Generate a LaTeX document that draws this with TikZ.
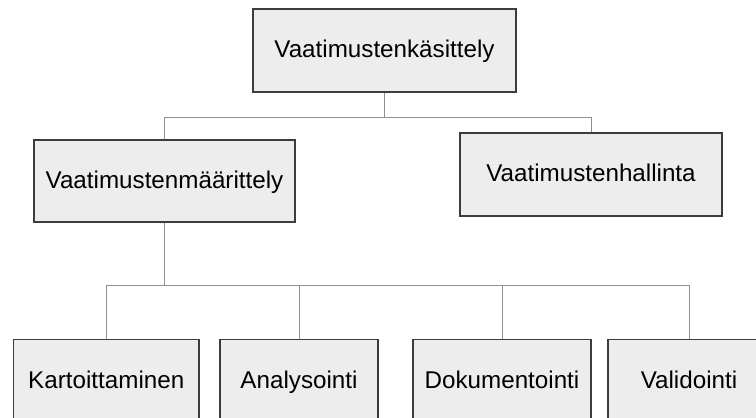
\documentclass[tikz,border=0pt]{standalone}
\usepackage{fontspec}
\setmainfont{Liberation Sans}
\usepackage{tikz}
\definecolor{boxfill}{HTML}{EDEDED}
\definecolor{boxline}{HTML}{3C3C3C}
\definecolor{connline}{HTML}{8E8E8E}
\tikzset{
  vaatbox/.style={draw=boxline, fill=boxfill, line width=0.75pt, inner sep=0pt,
    minimum height=41.5pt, text height=9pt, text depth=1.8pt,
    font=\fontsize{12.1}{14}\selectfont},
  conn/.style={draw=connline, line width=0.5pt}
}
\begin{document}
\begin{tikzpicture}[x=0.5pt,y=-0.5pt]
\useasboundingbox (0,0) rectangle (756,418);
\clip (0,0) rectangle (756,418);
\fill[white] (0,0) rectangle (756,418);
% ylin taso
\node[vaatbox, minimum width=131.5pt] (kasittely) at (384.5,50.5) {Vaatimustenkäsittely};
% toinen taso
\node[vaatbox, minimum width=130.5pt, minimum height=41pt] (maarittely) at (164.5,181) {Vaatimustenmäärittely};
\node[vaatbox, minimum width=131pt] (hallinta) at (591,174.5) {Vaatimustenhallinta};
% kolmas taso
\node[vaatbox, minimum width=92.75pt] (kartoitus) at (106.25,381) {Kartoittaminen};
\node[vaatbox, minimum width=79pt] (analyysi) at (299,381) {Analysointi};
\node[vaatbox, minimum width=89pt] (dokumentointi) at (502,381) {Dokumentointi};
\node[vaatbox, minimum width=81pt] (validointi) at (689,381) {Validointi};
% yhteydet
\draw[conn] (kasittely.south) -- ++(0,25) -| (maarittely.north);
\draw[conn] (kasittely.south) ++(0,25) -| (hallinta.north);
\foreach \lapsi in {kartoitus,analyysi,dokumentointi,validointi}
  \draw[conn] (maarittely.south) -- ++(0,63) -| (\lapsi.north);
\end{tikzpicture}
\end{document}
